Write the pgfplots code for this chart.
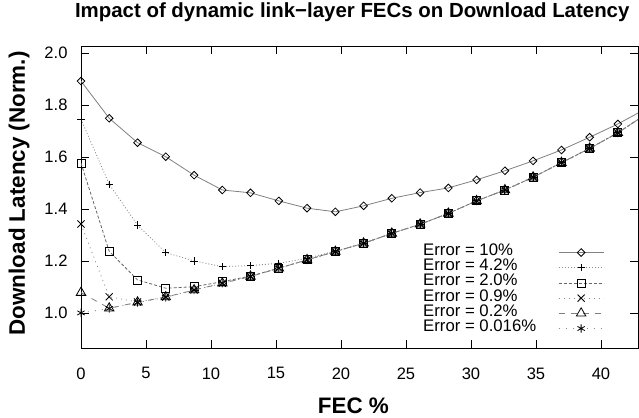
\documentclass[border=0pt]{standalone}
\usepackage{fontspec}
\setmainfont{Liberation Sans}
\usepackage{pgfplots}
\pgfplotsset{compat=1.18}

\pgfplotstableread{
x      e10    e42    e20    e09    e02    e0016
0.00   1.892  1.745  1.576  1.342  1.078  1.000
2.17   1.749  1.495  1.237  1.062  1.018  1.017
4.35   1.655  1.338  1.127  1.042  1.041  1.040
6.52   1.601  1.232  1.095  1.061  1.061  1.060
8.70   1.530  1.200  1.101  1.088  1.088  1.088
10.87  1.473  1.178  1.120  1.114  1.114  1.114
13.04  1.462  1.182  1.142  1.140  1.140  1.140
15.22  1.431  1.191  1.172  1.172  1.172  1.172
17.39  1.403  1.210  1.204  1.204  1.204  1.204
19.57  1.389  1.238  1.236  1.236  1.236  1.236
21.74  1.412  1.268  1.268  1.268  1.268  1.268
23.91  1.441  1.306  1.306  1.306  1.306  1.306
26.09  1.463  1.341  1.341  1.341  1.341  1.341
28.26  1.481  1.383  1.383  1.383  1.383  1.383
30.43  1.512  1.431  1.431  1.431  1.431  1.431
32.61  1.547  1.473  1.473  1.473  1.473  1.473
34.78  1.585  1.522  1.522  1.522  1.522  1.522
36.96  1.627  1.578  1.578  1.578  1.578  1.578
39.13  1.676  1.633  1.633  1.633  1.633  1.633
41.30  1.727  1.693  1.693  1.693  1.693  1.693
43.48  1.786  1.765  1.765  1.765  1.765  1.765
}\fecdata

\begin{document}
\begin{tikzpicture}
\begin{axis}[
    at={(81bp,70bp)}, anchor=south west,
    scale only axis, width=557bp, height=302bp,
    xmin=0, xmax=42.85, ymin=0.865, ymax=2.027,
    xtick={0,5,...,40},
    ytick={1.0,1.2,1.4,1.6,1.8,2.0},
    tick align=inside, major tick length=8bp,
    tick style={black, line width=0.8bp},
    axis line style={black, line width=0.8bp},
    clip mode=individual,
    /pgf/number format/assume math mode=true,
    tick label style={font=\fontsize{16.6}{20}\selectfont},
    xticklabel style={yshift=-16bp},
    yticklabel style={xshift=-10bp, /pgf/number format/.cd, fixed, fixed zerofill, precision=1},
    title={Impact of dynamic link−layer FECs on Download Latency},
    title style={at={(axis description cs:0.487,1.075)}, anchor=base,
        font=\fontsize{20.5}{24}\selectfont\bfseries},
    xlabel={FEC \%},
    xlabel style={at={(axis description cs:0.489,-0.192)}, anchor=center,
        font=\fontsize{22.5}{26}\selectfont\bfseries},
    ylabel={Download Latency (Norm.)},
    ylabel style={at={(axis description cs:-0.111,0.512)}, anchor=center, rotate=0,
        font=\fontsize{22.5}{26}\selectfont\bfseries},
    legend plot pos=right,
    legend cell align=left,
    legend image code/.code={%
        \draw[mark repeat=2, mark phase=2, #1]
            plot coordinates {(0bp,0bp) (22.5bp,0bp) (45bp,0bp)};},
    legend style={at={(axis description cs:0.614,0.342)}, anchor=north west,
        draw=none, fill=none, inner sep=0pt, column sep=22bp, row sep=0pt,
        font=\fontsize{16.8}{15}\selectfont,
        nodes={inner sep=0pt, text height=10.5bp, text depth=4.7bp}},
    every axis plot/.append style={line width=0.8bp},
]
\addplot[black!50, mark=square, mark size=2.7bp,
    mark options={black, solid, rotate=45, line width=0.8bp}]
    table[x=x, y=e10] {\fecdata};
\addlegendentry{Error = 10\%}
\addplot[black!45, dash pattern=on 1bp off 2bp, mark=+, mark size=3.6bp,
    mark options={black, solid, line width=0.8bp}]
    table[x=x, y=e42] {\fecdata};
\addlegendentry{Error = 4.2\%}
\addplot[black!60, dash pattern=on 3bp off 2bp, mark=square, mark size=4bp,
    mark options={black, solid, line width=0.8bp}]
    table[x=x, y=e20] {\fecdata};
\addlegendentry{Error = 2.0\%}
\addplot[black!45, dash pattern=on 1bp off 4bp, mark=x, mark size=5bp,
    mark options={black, solid, line width=0.8bp}]
    table[x=x, y=e09] {\fecdata};
\addlegendentry{Error = 0.9\%}
\addplot[black!50, dash pattern=on 6bp off 6bp, mark=triangle, mark size=5.5bp,
    mark options={black, solid, line width=0.8bp}]
    table[x=x, y=e02] {\fecdata};
\addlegendentry{Error = 0.2\%}
\addplot[black!45, dash pattern=on 1bp off 6bp, mark=asterisk, mark size=4.2bp,
    mark options={black, solid, line width=0.8bp}]
    table[x=x, y=e0016] {\fecdata};
\addlegendentry{Error = 0.016\%}
\end{axis}
\pgfresetboundingbox
\useasboundingbox (0,0) rectangle (639bp,418bp);
\end{tikzpicture}
\end{document}
